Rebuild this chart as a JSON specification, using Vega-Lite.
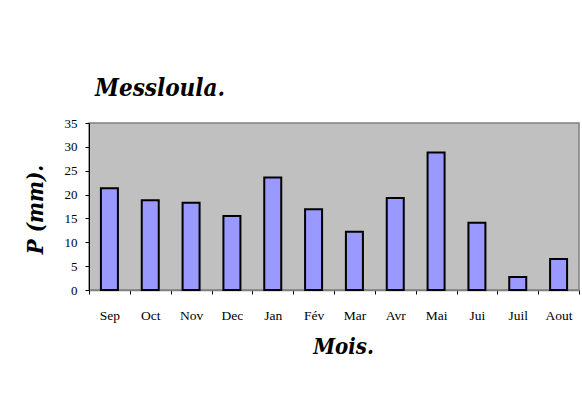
{
  "$schema": "https://vega.github.io/schema/vega-lite/v6.json",
  "width": 490,
  "height": 167,
  "autosize": {"type": "none"},
  "padding": {"left": 89, "top": 123, "right": 3, "bottom": 122},
  "background": "white",
  "title": {
    "text": "Messloula.",
    "anchor": "start",
    "frame": "group",
    "font": "DejaVu Serif Condensed",
    "fontSize": 24,
    "fontWeight": "bold",
    "fontStyle": "italic",
    "color": "black",
    "dx": 6,
    "offset": 16
  },
  "data": {
    "values": [
      {"mois": "Sep", "p": 21.3},
      {"mois": "Oct", "p": 18.8},
      {"mois": "Nov", "p": 18.3},
      {"mois": "Dec", "p": 15.5},
      {"mois": "Jan", "p": 23.6},
      {"mois": "Fév", "p": 16.9},
      {"mois": "Mar", "p": 12.2},
      {"mois": "Avr", "p": 19.3},
      {"mois": "Mai", "p": 28.8},
      {"mois": "Jui", "p": 14.1},
      {"mois": "Juil", "p": 2.7},
      {"mois": "Aout", "p": 6.5}
    ]
  },
  "mark": {"type": "bar", "fill": "#9999ff", "stroke": "black", "strokeWidth": 2, "width": 17},
  "encoding": {
    "x": {
      "field": "mois",
      "type": "nominal",
      "sort": null,
      "scale": {"paddingInner": 0, "paddingOuter": 0},
      "axis": {
        "title": "Mois.",
        "titleFont": "DejaVu Serif Condensed",
        "titleFontSize": 22,
        "titleFontWeight": "bold",
        "titleFontStyle": "italic",
        "titleColor": "black",
        "titleX": 254,
        "titleY": 63,
        "titleBaseline": "alphabetic",
        "labelAngle": 0,
        "labelFont": "Liberation Serif",
        "labelFontSize": 13.5,
        "labelColor": "black",
        "labelPadding": 14,
        "tickBand": "extent",
        "tickSize": 4,
        "tickColor": "black",
        "domainColor": "#808080",
        "domainWidth": 1.5,
        "grid": false
      }
    },
    "y": {
      "field": "p",
      "type": "quantitative",
      "scale": {"domain": [0, 35], "nice": false},
      "axis": {
        "title": "P (mm).",
        "titleFont": "DejaVu Serif Condensed",
        "titleFontSize": 22,
        "titleFontWeight": "bold",
        "titleFontStyle": "italic",
        "titleColor": "black",
        "titleAngle": 270,
        "titleBaseline": "middle",
        "titleAlign": "center",
        "titleX": -54,
        "titleY": 86,
        "values": [0, 5, 10, 15, 20, 25, 30, 35],
        "labelFont": "Liberation Serif",
        "labelFontSize": 13,
        "labelColor": "black",
        "labelPadding": 8,
        "tickSize": 4,
        "tickColor": "black",
        "domainColor": "black",
        "grid": false
      }
    }
  },
  "config": {
    "view": {"fill": "#c0c0c0", "stroke": "#808080", "strokeWidth": 1.5}
  }
}
